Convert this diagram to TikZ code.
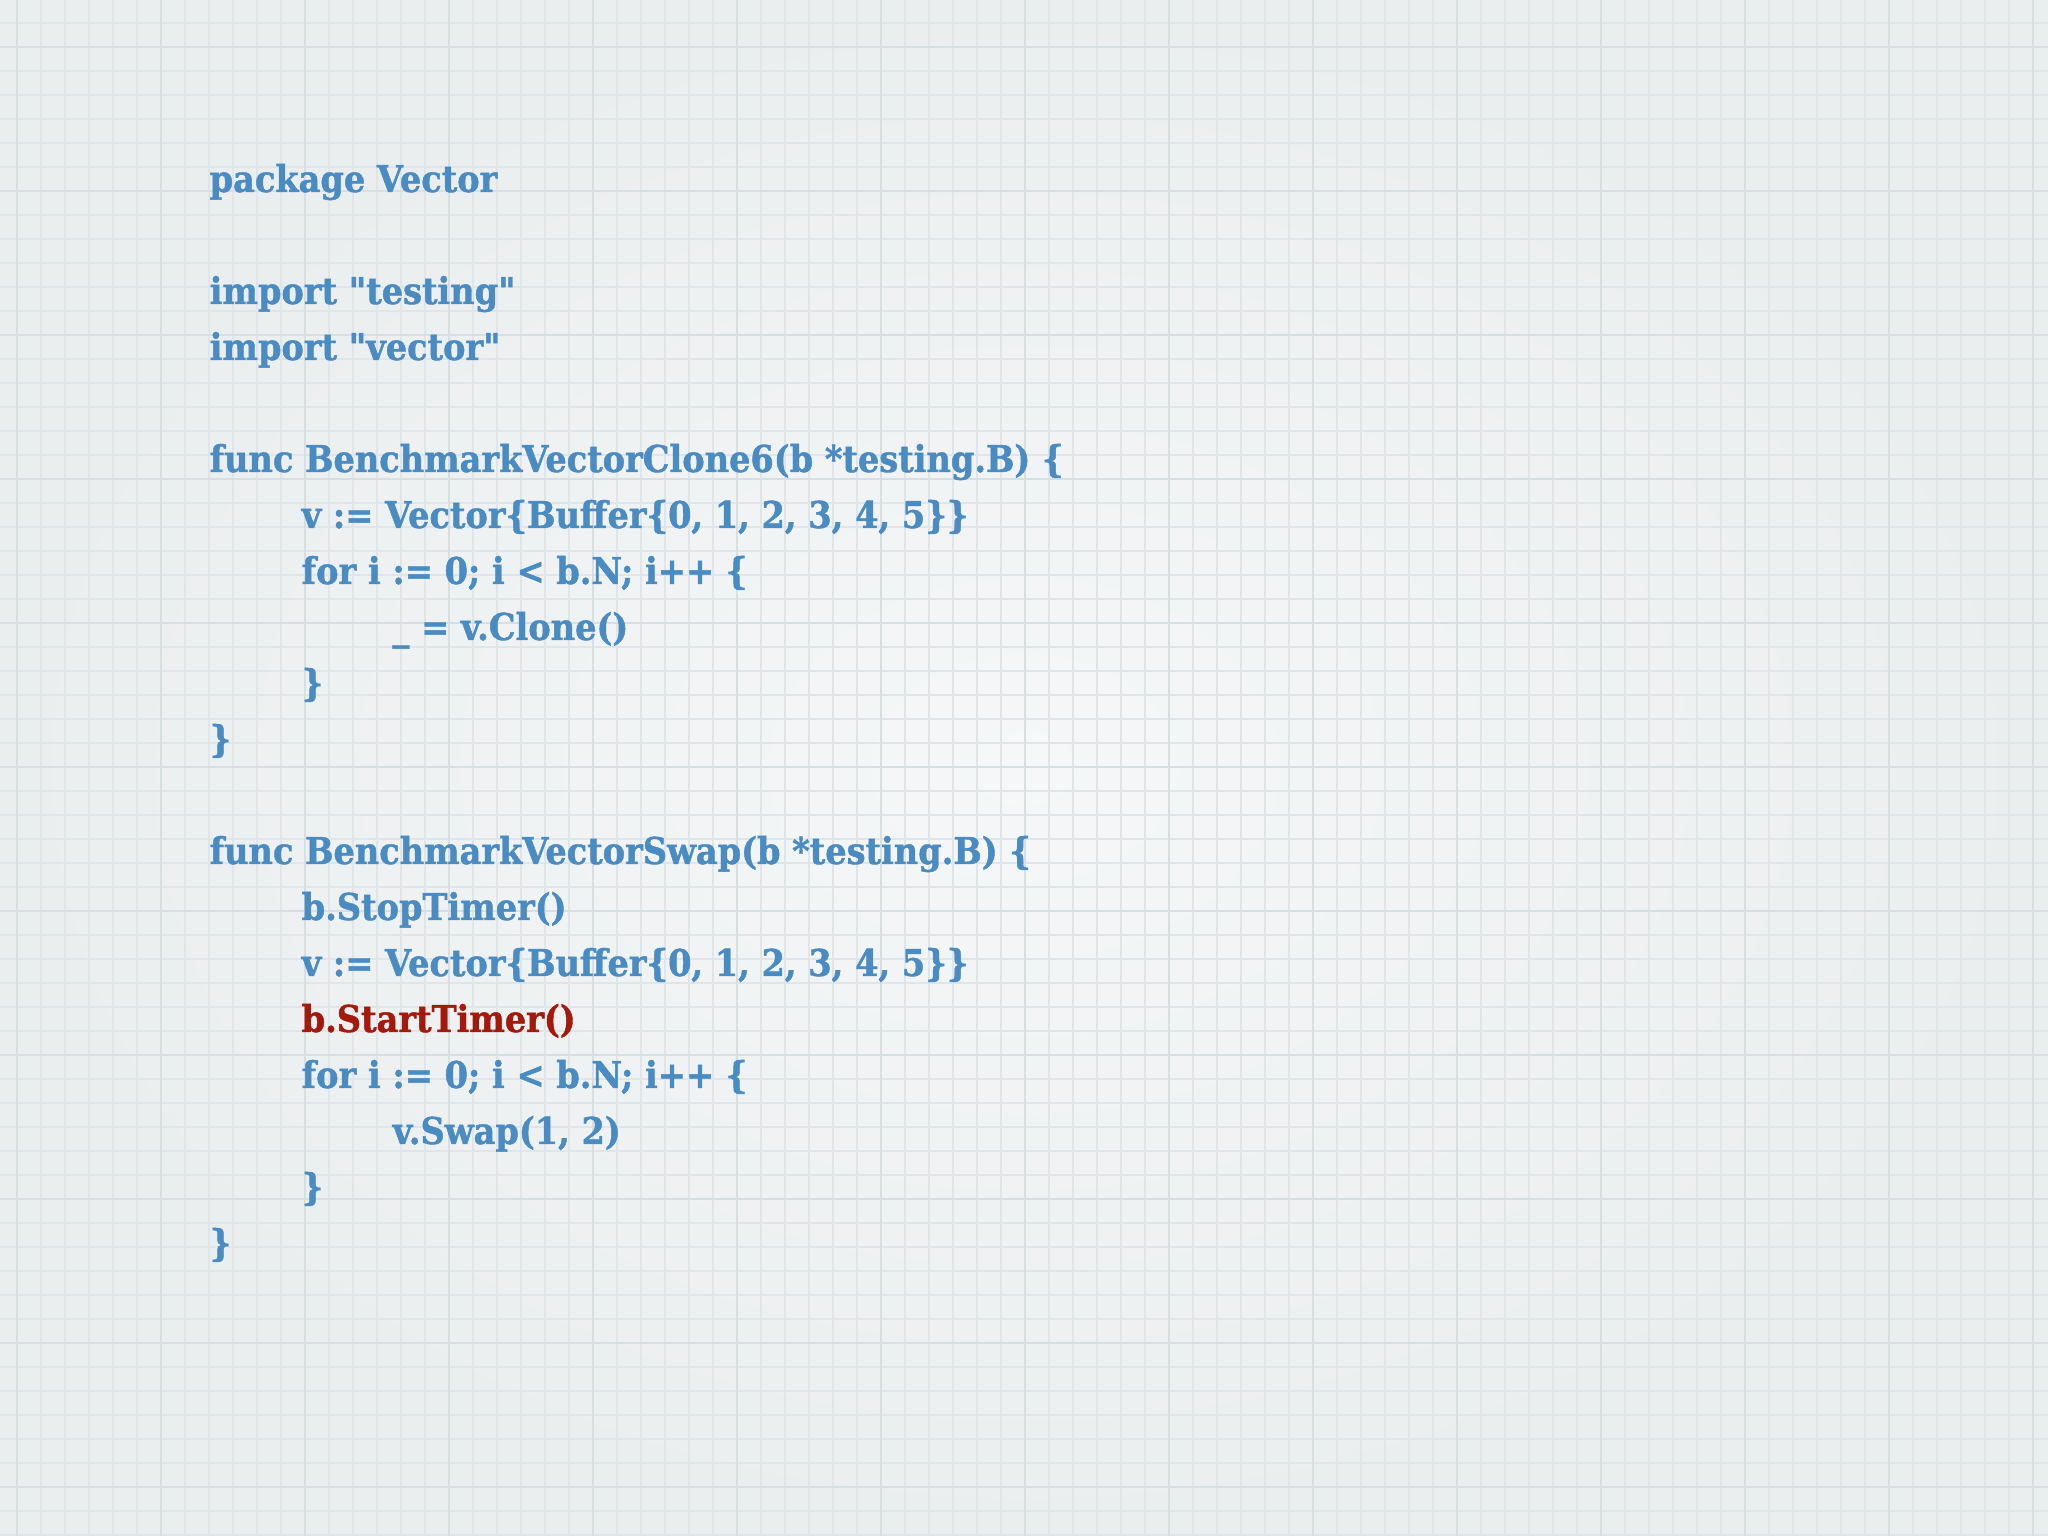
\documentclass[tikz,border=0pt]{standalone}
\usepackage{fontspec}
\usepackage{tikz}
\newfontfamily\codefont{DejaVu Serif}[FakeStretch=0.91, FakeBold=1.2]
\definecolor{codeblue}{HTML}{4A8BC2}
\definecolor{codered}{HTML}{A3190B}
\definecolor{paper}{HTML}{F5F7F8}
\definecolor{paperedge}{HTML}{EBEEEF}
\definecolor{gridminor}{HTML}{DFE5E8}
\definecolor{gridmajor}{HTML}{D8DFE3}

\begin{document}
\begin{tikzpicture}[scale=1,
    code/.style={anchor=base west, inner sep=0pt, text=codeblue,
      font=\codefont\bfseries\fontsize{10.5}{16}\selectfont},
    hot/.style={code, text=codered},
    minor/.style={gridminor, line width=0.6pt},
    major/.style={gridmajor, line width=0.7pt}]
      \useasboundingbox (0,0) rectangle (20.48,15.36);
      \shade[inner color=paper, outer color=paperedge] (0,0) rectangle (20.48,15.36);
      \foreach \i in {0,...,84}
        \draw[minor] ({0.17+0.24*\i},0) -- ({0.17+0.24*\i},15.36);
      \foreach \j in {0,...,63}
        \draw[minor] (0,{15.13-0.24*\j}) -- (20.48,{15.13-0.24*\j});
      \foreach \i in {0,6,...,84}
        \draw[major] ({0.17+0.24*\i},0) -- ({0.17+0.24*\i},15.36);
      \foreach \j in {1,7,...,61}
        \draw[major] (0,{15.13-0.24*\j}) -- (20.48,{15.13-0.24*\j});
      \node (1) at (2.09,13.44) [code] {package Vector};
      \node (3) at (2.09,12.32) [code] {import "testing"};
      \node (4) at (2.09,11.76) [code] {import "vector"};
      \node (6) at (2.09,10.64) [code] {func BenchmarkVectorClone6(b *testing.B) \{};
      \node (7) at (3.01,10.08) [code] {v := Vector\{Buffer\{0, 1, 2, 3, 4, 5\}\}};
      \node (8) at (3.01,9.52)  [code] {for i := 0; i < b.N; i++ \{};
      \node (9) at (3.92,8.96)  [code] {\_ = v.Clone()};
      \node (10) at (3.01,8.40) [code] {\}};
      \node (11) at (2.09,7.84) [code] {\}};
      \node (13) at (2.09,6.72) [code] {func BenchmarkVectorSwap(b *testing.B) \{};
      \node (14) at (3.01,6.16) [code] {b.StopTimer()};
      \node (15) at (3.01,5.60) [code] {v := Vector\{Buffer\{0, 1, 2, 3, 4, 5\}\}};
      \node (16) at (3.01,5.04) [hot]  {b.StartTimer()};
      \node (17) at (3.01,4.48) [code] {for i := 0; i < b.N; i++ \{};
      \node (18) at (3.92,3.92) [code] {v.Swap(1, 2)};
      \node (19) at (3.01,3.36) [code] {\}};
      \node (20) at (2.09,2.80) [code] {\}};
    \end{tikzpicture}
\end{document}
